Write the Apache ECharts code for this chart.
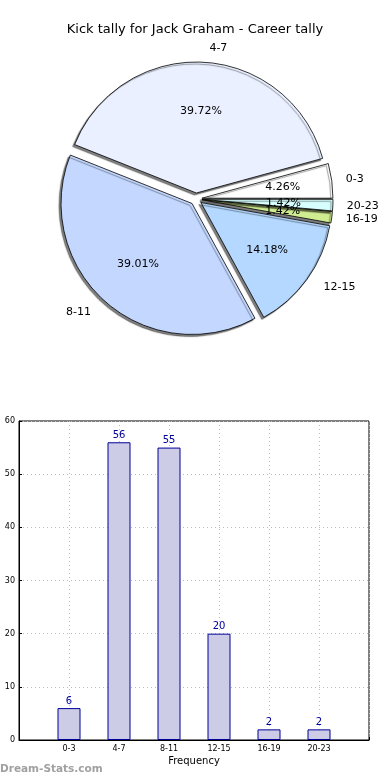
<!DOCTYPE html>
<html>
<head>
<meta charset="utf-8">
<script src="https://cdn.jsdelivr.net/npm/echarts@6/dist/echarts.min.js"></script>
<style>
html,body{margin:0;padding:0;background:#fff;}
#chart{width:390px;height:780px;}
</style>
</head>
<body>
<div id="chart"></div>
<script>
var categories = ['0-3', '4-7', '8-11', '12-15', '16-19', '20-23'];
var kicks = [6, 56, 55, 20, 2, 2];
var sliceColors = ['#ffffff', '#eaf0ff', '#c4d8ff', '#b4d8ff', '#d0ec90', '#d8ffff'];
var yTicks = [0, 10, 20, 30, 40, 50, 60];
var titleText = 'Kick tally for Jack Graham - Career tally';
var xAxisName = 'Frequency';
var watermark = 'Dream-Stats.com';

var FONT = 'DejaVu Sans';
var R = 131;
var CX = 196, CY = 199;
var total = kicks.reduce(function (a, b) { return a + b; }, 0);

var pieData = categories.map(function (c, i) {
  return { name: c, value: kicks[i], selected: true, itemStyle: { color: sliceColors[i] } };
});
var pctData = categories.map(function (c, i) {
  return { name: c, value: kicks[i], selected: true };
});
var barData = kicks.map(function (v, i) { return [i, v]; });

var chart = echarts.init(document.getElementById('chart'), null, { renderer: 'canvas' });
chart.setOption({
  animation: false,
  backgroundColor: '#ffffff',
  title: [
    { text: titleText, left: 'center', top: 18, textStyle: { fontFamily: FONT, fontSize: 13, fontWeight: 'normal', color: '#000' } },
    { text: watermark, left: 0, top: 764, padding: 0, textStyle: { fontFamily: FONT, fontSize: 10.5, fontWeight: 'bold', color: '#a0a0a0' } }
  ],
  grid: { left: 19, right: 21, top: 421, bottom: 40, show: true, borderColor: '#000', borderWidth: 1, backgroundColor: 'transparent' },
  xAxis: {
    type: 'value', min: -1, max: 6, interval: 1,
    name: xAxisName, nameLocation: 'middle', nameGap: 16,
    nameTextStyle: { fontFamily: FONT, fontSize: 10, color: '#000' },
    axisLine: { show: true, onZero: false, lineStyle: { color: '#000' } },
    axisTick: { show: true, inside: true, length: 3, lineStyle: { color: '#000' } },
    axisLabel: {
      fontFamily: FONT, fontSize: 8, color: '#000', margin: 5,
      formatter: function (v) { return categories[v] !== undefined ? categories[v] : ''; }
    },
    splitLine: { show: true, lineStyle: { color: '#bbbbbb', type: [1, 3] } }
  },
  yAxis: {
    type: 'value', min: yTicks[0], max: yTicks[yTicks.length - 1], interval: 10,
    axisLine: { show: true, onZero: false, lineStyle: { color: '#000' } },
    axisTick: { show: true, inside: true, length: 3, lineStyle: { color: '#000' } },
    axisLabel: { fontFamily: FONT, fontSize: 8, color: '#000', margin: 4 },
    splitLine: { show: true, lineStyle: { color: '#bbbbbb', type: [1, 3] } }
  },
  series: [
    {
      type: 'pie', name: 'tally',
      center: [CX, CY], radius: R,
      startAngle: 0, clockwise: false,
      selectedMode: 'multiple', selectedOffset: 6,
      avoidLabelOverlap: true,
      data: pieData,
      itemStyle: { borderColor: '#000', borderWidth: 0.8, shadowColor: 'rgba(0,0,0,0.5)', shadowBlur: 1, shadowOffsetX: -2, shadowOffsetY: 2 },
      label: { show: true, position: 'outside', formatter: '{b}', fontFamily: FONT, fontSize: 11, color: '#000' },
      labelLine: { show: false, length: 14, length2: 0 },
      emphasis: { disabled: true }
    },
    {
      type: 'pie', name: 'pct', silent: true,
      center: [CX, CY], radius: R * 1.2,
      startAngle: 0, clockwise: false,
      selectedMode: 'multiple', selectedOffset: 6,
      avoidLabelOverlap: false,
      labelLayout: { hideOverlap: false },
      data: pctData,
      itemStyle: { color: 'rgba(0,0,0,0)', borderWidth: 0 },
      label: {
        show: true, position: 'inside', fontFamily: FONT, fontSize: 11, color: '#000',
        formatter: function (p) { return (p.value / total * 100).toFixed(2) + '%'; }
      },
      labelLine: { show: false },
      emphasis: { disabled: true }
    },
    {
      type: 'bar', name: 'freq',
      data: barData, barWidth: 23,
      itemStyle: { color: '#cccce6', borderColor: '#000099', borderWidth: 1 },
      label: { show: true, position: 'top', distance: 2, fontFamily: FONT, fontSize: 10, color: '#000099', formatter: function (p) { return p.value[1]; } },
      emphasis: { disabled: true }
    }
  ]
});
</script>
</body>
</html>
